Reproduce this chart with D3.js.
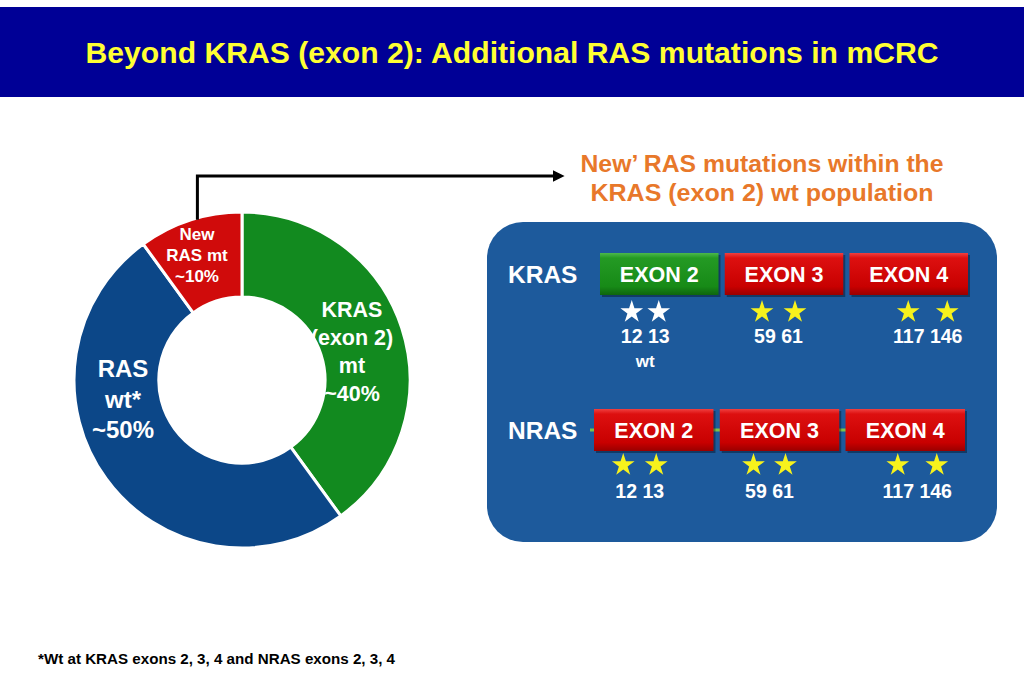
<!DOCTYPE html>
<html>
<head>
<meta charset="utf-8">
<script src="https://cdn.jsdelivr.net/npm/d3@7/dist/d3.min.js"></script>
<style>
  body { margin: 0; background: #fff; }
  svg { display: block; font-family: "Liberation Sans", Arial, sans-serif; font-weight: bold; }
</style>
</head>
<body>
<script>
// data
const title = "Beyond KRAS (exon 2): Additional RAS mutations in mCRC"
const segments = ["KRAS (exon 2) mt", "RAS wt*", "New RAS mt"]
const shares = [40, 50, 10]
const segColors = ["#128a1f", "#0c4788", "#d00b0b"]
const segLabels = [["KRAS", "(exon 2)", "mt", "~40%"], ["RAS", "wt*", "~50%"], ["New", "RAS mt", "~10%"]]
const calloutLines = ["New\u2019 RAS mutations within the", "KRAS (exon 2) wt population"]
const genes = ["KRAS", "NRAS"]
const exons = ["EXON 2", "EXON 3", "EXON 4"]
const codons = [["12", "13"], ["59", "61"], ["117", "146"]]
const kras_status = ["wt", "mt", "mt"]
const nras_status = ["mt", "mt", "mt"]
const footnote = "*Wt at KRAS exons 2, 3, 4 and NRAS exons 2, 3, 4"

const W = 1024, H = 683
let svg = d3.select('body').append('svg')
    .attr('width', W)
    .attr('height', H)

let defs = svg.append('defs')
function grad(id, stops) {
    let g = defs.append('linearGradient').attr('id', id)
        .attr('x1', 0).attr('y1', 0).attr('x2', 0).attr('y2', 1)
    stops.forEach(s => g.append('stop').attr('offset', s[0]).attr('stop-color', s[1]))
}
grad('gRed', [[0, '#f04040'], [0.12, '#dd1010'], [0.8, '#c80000'], [1, '#9a0000']])
grad('gGreen', [[0, '#4cb84c'], [0.12, '#249a24'], [0.8, '#178a17'], [1, '#0e650e']])
defs.append('marker').attr('id', 'arrow')
    .attr('viewBox', '0 0 10 10').attr('refX', 2).attr('refY', 5)
    .attr('markerWidth', 4).attr('markerHeight', 4).attr('orient', 'auto')
    .append('path').attr('d', 'M0,0 L10,5 L0,10 z').attr('fill', '#000')

// title band
svg.append('rect')
    .attr('x', 0).attr('y', 7).attr('width', W).attr('height', 90)
    .attr('fill', '#000096')
svg.append('text')
    .attr('x', 512).attr('y', 63)
    .attr('text-anchor', 'middle')
    .attr('font-size', 30)
    .attr('textLength', 853).attr('lengthAdjust', 'spacingAndGlyphs')
    .attr('fill', '#ffff33')
    .text(title)

// donut
const cx = 242, cy = 380
let pie = d3.pie().sort(null).value(d => d)
let arc = d3.arc().innerRadius(83).outerRadius(168)
let g = svg.append('g').attr('transform', `translate(${cx},${cy})`)
g.selectAll('path').data(pie(shares)).join('path')
    .attr('d', arc)
    .attr('fill', (d, i) => segColors[i])
    .attr('stroke', '#fff')
    .attr('stroke-width', 3)

// label anchors (first baseline) relative to centre, size, line gap
const labelPos = [[110, -63, 21.5, 28], [-119, -3, 24, 30.5], [-45, -140, 17, 21]]
segLabels.forEach((lines, i) => {
    let p = labelPos[i]
    let t = g.append('text')
        .attr('text-anchor', 'middle')
        .attr('font-size', p[2])
        .attr('fill', '#fff')
    lines.forEach((s, j) => {
        t.append('tspan').attr('x', p[0]).attr('y', p[1] + j * p[3]).text(s)
    })
})

// connector arrow from the red slice
let ang = -0.2715
svg.append('path')
    .attr('d', `M${cx + 168 * Math.sin(ang) * 0.99},${cy - 168 * Math.cos(ang) * 0.99} V176 H555`)
    .attr('fill', 'none')
    .attr('stroke', '#000')
    .attr('stroke-width', 3)
    .attr('marker-end', 'url(#arrow)')

// callout title
const calloutW = [363, 343]
svg.append('g').selectAll('text').data(calloutLines).join('text')
    .attr('x', 762)
    .attr('y', (d, i) => 172 + i * 29)
    .attr('text-anchor', 'middle')
    .attr('font-size', 23.5)
    .attr('textLength', (d, i) => calloutW[i]).attr('lengthAdjust', 'spacingAndGlyphs')
    .attr('fill', '#e8782a')
    .text(d => d)

// blue panel
svg.append('rect')
    .attr('x', 487).attr('y', 222).attr('width', 510).attr('height', 320)
    .attr('rx', 36)
    .attr('fill', '#1d5a9c')

// exon rows
const rows = [
    {gene: genes[0], status: kras_status, range: [600, 968], top: 253, starY: 312, numY: 343},
    {gene: genes[1], status: nras_status, range: [594, 965], top: 409, starY: 465, numY: 498}
]
const boxH = 42
const pairOffset = [[-14, -5.5, 19], [-14, -10, 12]]
const pairHalf = [[13.5, 16.5, 19.5], [16.5, 16, 19.5]]
let star = d3.symbol().type(d3.symbolStar).size(160)

rows.forEach((r, ri) => {
    let x = d3.scaleBand().domain(exons).range(r.range).paddingInner(0.05)
    let row = svg.append('g')

    row.append('text')
        .attr('x', 508).attr('y', r.top + boxH / 2 + 9)
        .attr('font-size', 24.5)
        .attr('fill', '#fff')
        .text(r.gene)

    if (ri === 1) {
        row.append('line')
            .attr('x1', r.range[0] - 4).attr('x2', r.range[1])
            .attr('y1', r.top + boxH / 2).attr('y2', r.top + boxH / 2)
            .attr('stroke', '#7cc04c').attr('stroke-width', 3)
    }

    let ex = row.selectAll('g.exon').data(exons).join('g').attr('class', 'exon')
    ex.append('rect')
        .attr('x', d => x(d) + 2).attr('y', r.top + 2)
        .attr('width', x.bandwidth()).attr('height', boxH)
        .attr('fill', 'rgba(0,0,0,0.35)')
    ex.append('rect')
        .attr('x', d => x(d)).attr('y', r.top)
        .attr('width', x.bandwidth()).attr('height', boxH)
        .attr('fill', (d, i) => r.status[i] === 'wt' ? 'url(#gGreen)' : 'url(#gRed)')
    ex.append('text')
        .attr('x', d => x(d) + x.bandwidth() / 2)
        .attr('y', r.top + boxH / 2 + 7.5)
        .attr('text-anchor', 'middle')
        .attr('font-size', 21.5)
        .attr('fill', '#fff')
        .text(d => d)

    exons.forEach((e, i) => {
        let pc = x(e) + x.bandwidth() / 2 + pairOffset[ri][i]
        let h = pairHalf[ri][i]
        let fill = r.status[i] === 'wt' ? '#ffffff' : '#f7f21c'
        row.selectAll(null).data(codons[i]).join('path')
            .attr('d', star)
            .attr('transform', (d, j) => `translate(${pc + (j ? h : -h)},${r.starY})`)
            .attr('fill', fill)
        row.append('text')
            .attr('x', pc).attr('y', r.numY)
            .attr('text-anchor', 'middle')
            .attr('font-size', 19.5)
            .attr('fill', '#fff')
            .text(codons[i].join(' '))
        if (r.status[i] === 'wt') {
            row.append('text')
                .attr('x', pc).attr('y', r.numY + 24)
                .attr('text-anchor', 'middle')
                .attr('font-size', 17)
                .attr('fill', '#fff')
                .text('wt')
        }
    })
})

// footnote
svg.append('text')
    .attr('x', 38).attr('y', 664)
    .attr('font-size', 14)
    .attr('textLength', 357).attr('lengthAdjust', 'spacingAndGlyphs')
    .attr('fill', '#000')
    .text(footnote)
</script>
</body>
</html>
